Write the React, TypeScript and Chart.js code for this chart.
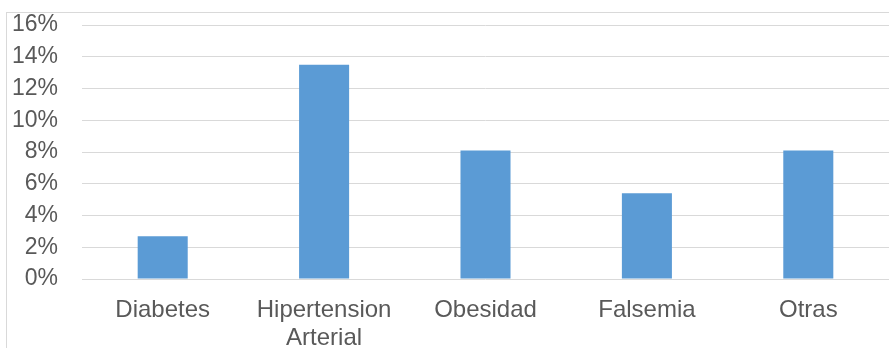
import React, { useEffect, useRef } from "react";
import { Chart, registerables } from "chart.js";

Chart.register(...registerables);

const categories: (string | string[])[] = [
  "Diabetes",
  ["Hipertension", "Arterial"],
  "Obesidad",
  "Falsemia",
  "Otras",
];
const values = [0.027, 0.135, 0.081, 0.054, 0.081];
const yTicks = [0, 0.02, 0.04, 0.06, 0.08, 0.1, 0.12, 0.14, 0.16];

const frame = {
  id: "frame",
  beforeDraw(chart: any) {
    const ctx = chart.ctx;
    ctx.save();
    ctx.strokeStyle = "#d9d9d9";
    ctx.lineWidth = 1;
    ctx.strokeRect(6.5, 12.5, 2000, 2000);
    ctx.restore();
  },
};

export default function App() {
  const ref = useRef<HTMLCanvasElement | null>(null);
  useEffect(() => {
    if (!ref.current) return;
    const chart = new Chart(ref.current, {
      type: "bar",
      data: {
        labels: categories,
        datasets: [
          {
            data: values,
            backgroundColor: "#5b9bd5",
            categoryPercentage: 1,
            barPercentage: 0.31,
          },
        ],
      },
      options: {
        animation: false,
        responsive: false,
        layout: { padding: { top: 25, left: 0, right: 0, bottom: 0 } },
        plugins: { legend: { display: false }, tooltip: { enabled: false } },
        scales: {
          x: {
            grid: { display: false, drawTicks: false },
            border: { display: false },
            ticks: {
              color: "#595959",
              font: { family: "Liberation Sans, Arial", size: 24, lineHeight: 1.18 },
              padding: 17,
              maxRotation: 0,
              autoSkip: false,
            },
            afterFit: (s: any) => {
              s.height = 69;
              s.paddingLeft = 0;
              s.paddingRight = 0;
            },
          },
          y: {
            min: 0,
            max: 0.16,
            afterBuildTicks: (s: any) => {
              s.ticks = yTicks.map((v) => ({ value: v }));
            },
            grid: { color: "#d9d9d9", drawTicks: false, lineWidth: 1 },
            border: { display: false },
            ticks: {
              color: "#595959",
              font: { family: "Liberation Sans, Arial", size: 23 },
              padding: 24,
              autoSkip: false,
              callback: (v: any) => Math.round(Number(v) * 100) + "%",
            },
            afterFit: (s: any) => {
              s.width = 82;
              s.paddingTop = 0;
              s.paddingBottom = 0;
            },
          },
        },
      },
      plugins: [frame],
    });
    return () => chart.destroy();
  }, []);
  return (
    <div style={{ position: "absolute", left: 0, top: 0, width: 889, height: 348, background: "#fff" }}>
      <canvas ref={ref} width={889} height={348} style={{ display: "block" }} />
    </div>
  );
}
